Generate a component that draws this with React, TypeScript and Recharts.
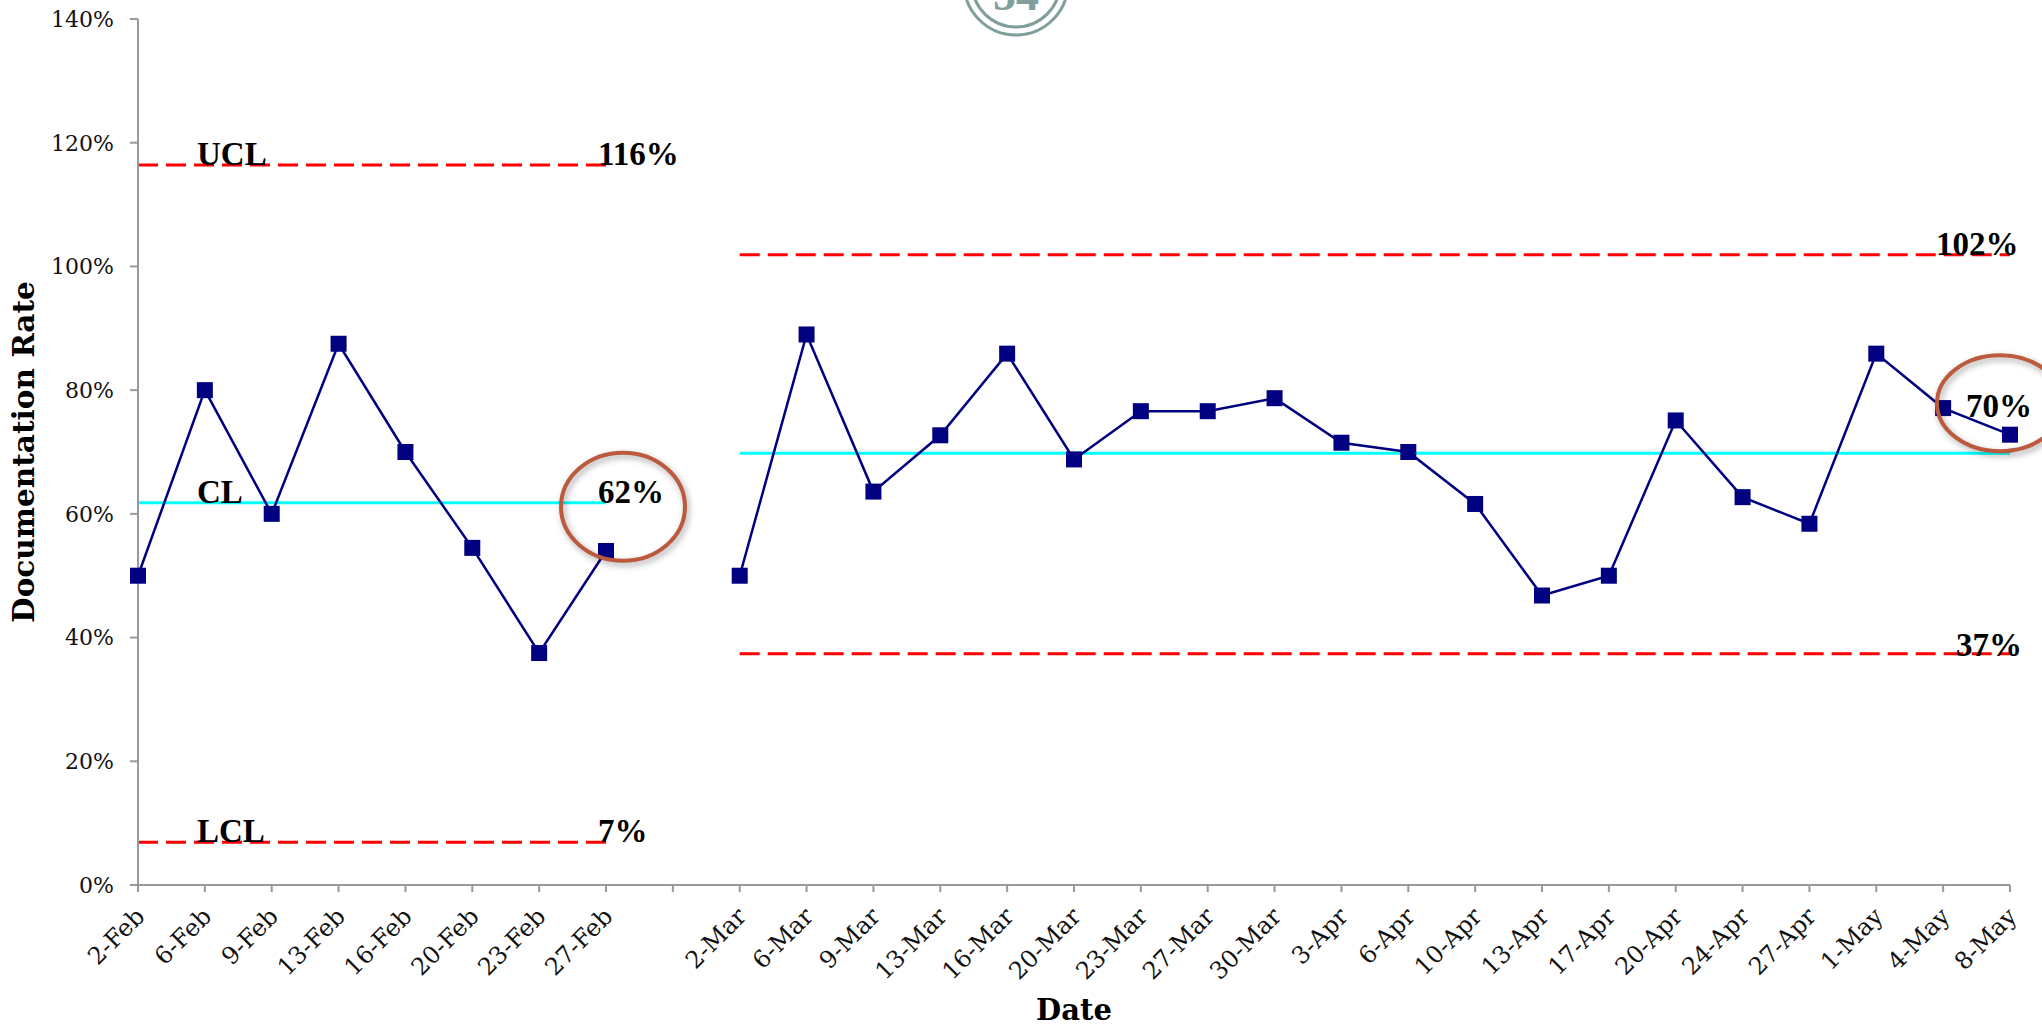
import React from "react"
import { LineChart, Line, XAxis, YAxis, LabelList, ReferenceDot } from "recharts"

const dates = [
  "2-Feb", "6-Feb", "9-Feb", "13-Feb", "16-Feb", "20-Feb", "23-Feb", "27-Feb",
  "",
  "2-Mar", "6-Mar", "9-Mar", "13-Mar", "16-Mar", "20-Mar", "23-Mar", "27-Mar", "30-Mar",
  "3-Apr", "6-Apr", "10-Apr", "13-Apr", "17-Apr", "20-Apr", "24-Apr", "27-Apr",
  "1-May", "4-May", "8-May",
]

const rate = [
  50, 80, 60, 87.5, 70, 54.5, 37.5, 54,
  null,
  50, 89, 63.6, 72.7, 85.9, 68.8, 76.6, 76.6, 78.7,
  71.5, 70, 61.6, 46.8, 50, 75.1, 62.7, 58.4,
  85.9, 77.1, 72.8,
]

// control limits per phase (Feb, Mar-May)
const ucl = [116.4, 101.9]
const cl = [61.8, 69.8]
const lcl = [6.9, 37.4]

const yTicks = [0, 20, 40, 60, 80, 100, 120, 140]

const lastFeb = dates.indexOf("27-Feb")
const gapIdx = dates.indexOf("")

const data = dates.map((date, i) => {
  const p = i < gapIdx ? 0 : i > gapIdx ? 1 : null
  return {
    date,
    rate: rate[i],
    ucl: p === null ? null : ucl[p],
    cl: p === null ? null : cl[p],
    lcl: p === null ? null : lcl[p],
  }
})

const W = 2042
const H = 1026
const serif = "'DejaVu Serif', serif"
const boldSerif = "'Liberation Serif', 'Times New Roman', serif"

const SquareDot = (props: any) => {
  const { cx, cy, index } = props
  if (cy == null || cx == null) return <g key={`d-${index}`} />
  return <rect key={`d-${index}`} x={cx - 8} y={cy - 8} width={16} height={16} fill="#000080" />
}

const DateTick = (props: any) => {
  const { x, y, payload } = props
  return (
    <g transform={`translate(${x + 8},${y + 24})`}>
      <text x={0} y={0} textAnchor="end" transform="rotate(-45)" fontFamily={serif} fontSize={24} fill="#111">
        {payload.value}
      </text>
    </g>
  )
}

// value label offsets at the end of the Mar-May lines
const endOffsets: Record<string, [number, number]> = {
  UCL: [-74, 0],
  CL: [-44, -36],
  LCL: [-54, 2],
}

const limitLabel = (name: string) => (props: any) => {
  const { x, y, index, value } = props
  if (value == null || x == null) return null
  const txt = `${Math.round(value)}%`
  const style = { fontFamily: boldSerif, fontWeight: 700, fontSize: 33, fill: "#000" }
  if (index === 0) {
    return <text key={`n-${name}`} x={x + 59} y={y} {...style}>{name}</text>
  }
  if (index === lastFeb) {
    return <text key={`v-${name}-1`} x={x - 8} y={y} {...style}>{txt}</text>
  }
  if (index === dates.length - 1) {
    const [dx, dy] = endOffsets[name]
    return <text key={`v-${name}-2`} x={x + dx} y={y + dy} {...style}>{txt}</text>
  }
  return null
}

const ring = (dx: number, dy: number, rx: number, ry: number) => (props: any) => {
  const { cx, cy } = props
  return (
    <ellipse
      cx={cx + dx}
      cy={cy + dy}
      rx={rx}
      ry={ry}
      fill="none"
      stroke="#bb5a3c"
      strokeWidth={4}
      style={{ filter: "drop-shadow(2px 3px 3px rgba(0,0,0,0.35))" }}
    />
  )
}

export default function App() {
  return (
    <div style={{ position: "absolute", left: 0, top: 0, width: W, height: H, background: "#fff" }}>
      <LineChart width={W} height={H} data={data} margin={{ top: 19, right: 32, bottom: 41, left: 58 }}>
        <XAxis
          dataKey="date"
          interval={0}
          tick={<DateTick />}
          tickSize={7}
          tickMargin={2}
          height={100}
          stroke="#999"
          strokeWidth={2}
          label={(p: any) => {
            const vb = p.viewBox
            return (
              <text x={vb.x + vb.width / 2} y={vb.y + 135} textAnchor="middle" fontFamily={serif} fontWeight={700} fontSize={29} fill="#000">
                Date
              </text>
            )
          }}
        />
        <YAxis
          domain={[0, 140]}
          ticks={yTicks}
          tickFormatter={(v: number) => `${v}%`}
          tickSize={8}
          tickMargin={16}
          width={80}
          stroke="#999"
          strokeWidth={2}
          tick={{ fontFamily: serif, fontSize: 22, fill: "#111" }}
          label={(p: any) => {
            const vb = p.viewBox
            const cx = vb.x - 34
            const cy = vb.y + vb.height / 2
            return (
              <text x={cx} y={cy} dy="0.35em" textAnchor="middle" transform={`rotate(-90, ${cx}, ${cy})`} fontFamily={serif} fontWeight={700} fontSize={29.5} fill="#000">
                Documentation Rate
              </text>
            )
          }}
        />
        <Line dataKey="ucl" stroke="#ff0000" strokeWidth={3} strokeDasharray="20 8" dot={false} isAnimationActive={false} connectNulls={false}>
          <LabelList dataKey="ucl" content={limitLabel("UCL")} />
        </Line>
        <Line dataKey="cl" stroke="#00ffff" strokeWidth={3} dot={false} isAnimationActive={false} connectNulls={false}>
          <LabelList dataKey="cl" content={limitLabel("CL")} />
        </Line>
        <Line dataKey="lcl" stroke="#ff0000" strokeWidth={3} strokeDasharray="20 8" dot={false} isAnimationActive={false} connectNulls={false}>
          <LabelList dataKey="lcl" content={limitLabel("LCL")} />
        </Line>
        <Line dataKey="rate" stroke="#000080" strokeWidth={2.5} dot={<SquareDot />} activeDot={false} isAnimationActive={false} connectNulls={false} />
        <ReferenceDot x="27-Feb" y={cl[0]} r={0} shape={ring(17, 4, 62, 54)} />
        <ReferenceDot x="8-May" y={cl[1]} r={0} shape={ring(-10, -50, 63, 48)} />
      </LineChart>
      <svg width={W} height={60} style={{ position: "absolute", left: 0, top: 0 }}>
        <circle cx={1016} cy={-17} r={52} fill="none" stroke="#7f9e9c" strokeWidth={3} />
        <circle cx={1016} cy={-17} r={44} fill="none" stroke="#7f9e9c" strokeWidth={3} />
        <text x={1016} y={10} textAnchor="middle" fontFamily={boldSerif} fontWeight={700} fontSize={46} fill="#7f9e9c">54</text>
      </svg>
    </div>
  )
}
